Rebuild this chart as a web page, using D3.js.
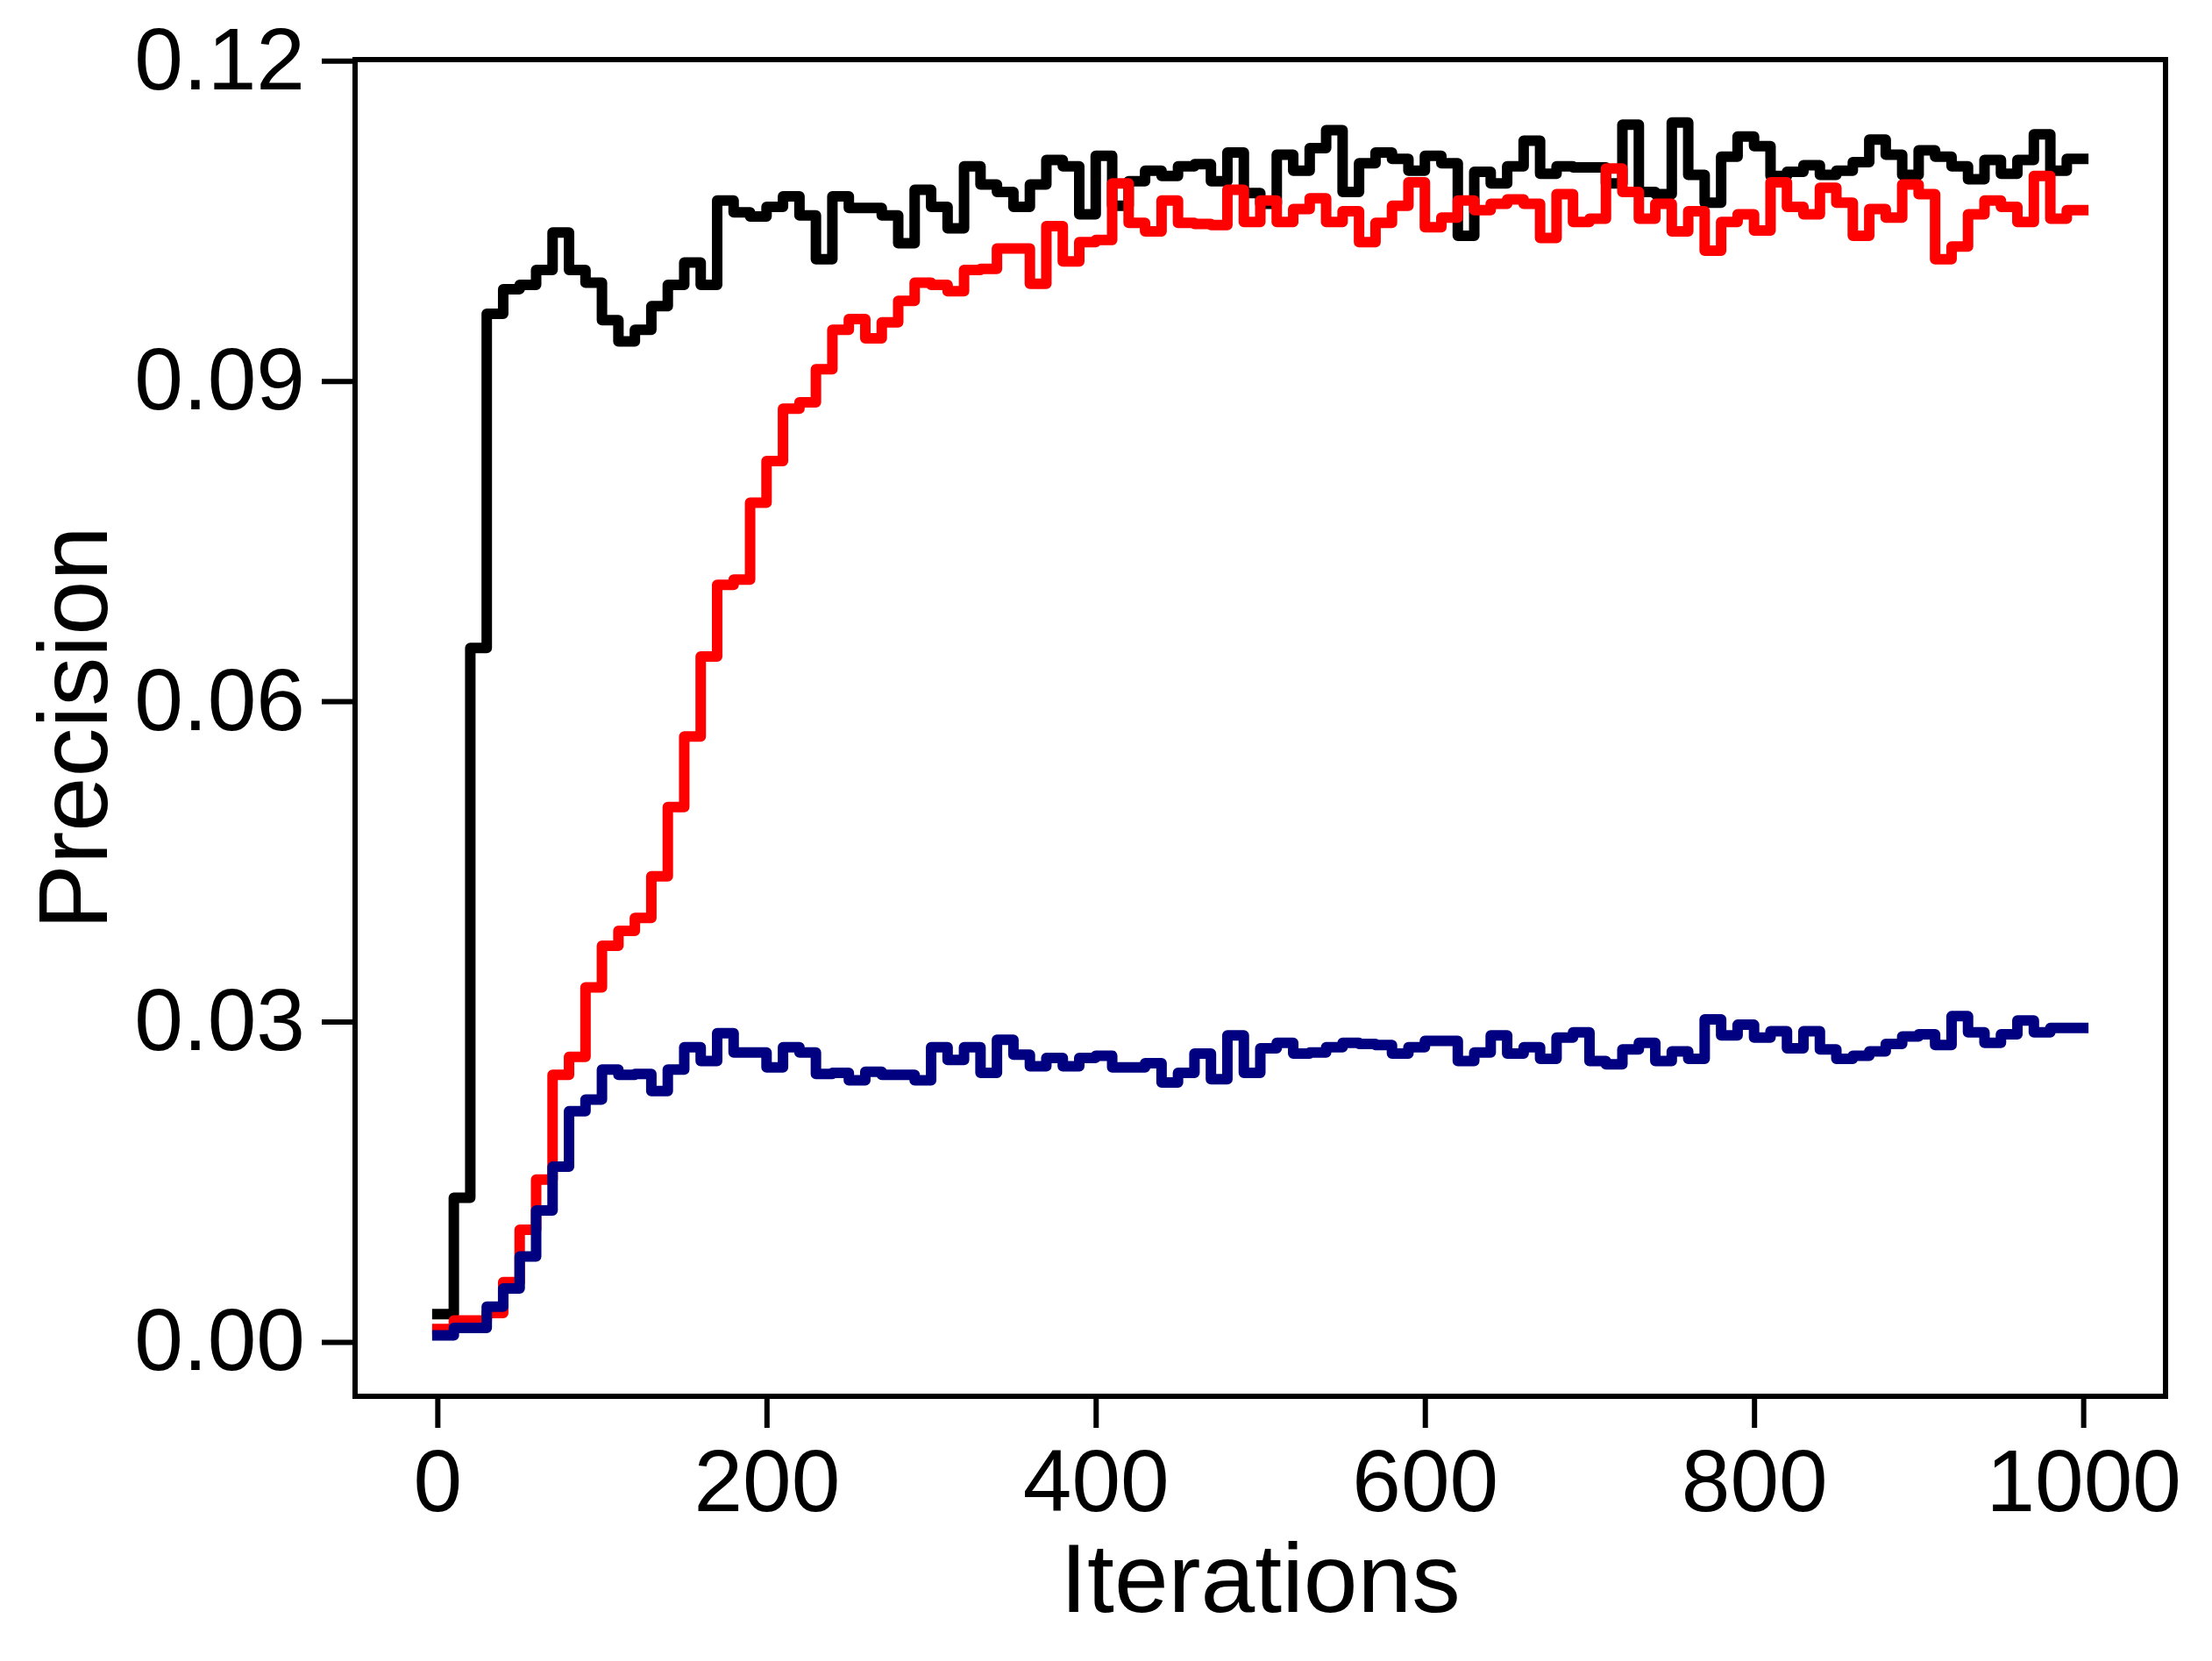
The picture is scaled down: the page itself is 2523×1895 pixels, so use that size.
<!DOCTYPE html>
<html>
<head>
<meta charset="utf-8">
<script src="https://cdn.jsdelivr.net/npm/d3@7"></script>
<style>
  body { margin: 0; background: #fff; }
  text { font-family: "Liberation Sans", Arial, sans-serif; fill: #000; }
</style>
</head>
<body>
<div id="chart"></div>
<script>
// iterations sampled every 10 steps
const iterations = d3.range(0, 1001, 10);

const blackValues = [
  0.0026, 0.0135, 0.0650, 0.0963, 0.0986, 0.0990, 0.1004, 0.1039, 0.1004, 0.0992,
  0.0957, 0.0937, 0.0948, 0.0970, 0.0990, 0.1011, 0.0990, 0.1069, 0.1058, 0.1054,
  0.1063, 0.1073, 0.1055, 0.1014, 0.1073, 0.1062, 0.1062, 0.1055, 0.1029, 0.1079,
  0.1063, 0.1043, 0.1101, 0.1084, 0.1077, 0.1063, 0.1084, 0.1107, 0.1101, 0.1056,
  0.1111, 0.1064, 0.1087, 0.1097, 0.1092, 0.1101, 0.1103, 0.1087, 0.1114, 0.1076,
  0.1066, 0.1112, 0.1097, 0.1118, 0.1135, 0.1077, 0.1104, 0.1114, 0.1108, 0.1097,
  0.1111, 0.1104, 0.1036, 0.1096, 0.1085, 0.1101, 0.1125, 0.1094, 0.1101, 0.1100,
  0.1100, 0.1085, 0.1140, 0.1077, 0.1075, 0.1142, 0.1093, 0.1067, 0.1110, 0.1129,
  0.1120, 0.1092, 0.1096, 0.1102, 0.1093, 0.1097, 0.1105, 0.1126, 0.1112, 0.1093,
  0.1116, 0.1110, 0.1101, 0.1089, 0.1107, 0.1094, 0.1107, 0.1131, 0.1097, 0.1108,
  0.1108
];

const redValues = [
  0.0012, 0.0020, 0.0020, 0.0027, 0.0056, 0.0105, 0.0152, 0.0250, 0.0267, 0.0332,
  0.0371, 0.0385, 0.0397, 0.0436, 0.0501, 0.0567, 0.0642, 0.0709, 0.0714, 0.0786,
  0.0825, 0.0874, 0.0880, 0.0911, 0.0948, 0.0958, 0.0940, 0.0955, 0.0975, 0.0992,
  0.0990, 0.0984, 0.1004, 0.1005, 0.1024, 0.1024, 0.0991, 0.1045, 0.1012, 0.1030,
  0.1032, 0.1085, 0.1048, 0.1040, 0.1069, 0.1048, 0.1047, 0.1046, 0.1079, 0.1049,
  0.1069, 0.1049, 0.1061, 0.1071, 0.1049, 0.1059, 0.1030, 0.1048, 0.1064, 0.1086,
  0.1044, 0.1053, 0.1069, 0.1060, 0.1066, 0.1070, 0.1066, 0.1034, 0.1075, 0.1049,
  0.1052, 0.1099, 0.1077, 0.1052, 0.1066, 0.1040, 0.1059, 0.1022, 0.1049, 0.1056,
  0.1041, 0.1086, 0.1063, 0.1056, 0.1081, 0.1067, 0.1036, 0.1061, 0.1053, 0.1084,
  0.1075, 0.1014, 0.1026, 0.1056, 0.1069, 0.1063, 0.1049, 0.1092, 0.1052, 0.1060,
  0.1060
];

const blueValues = [
  0.0006, 0.0013, 0.0013, 0.0033, 0.0050, 0.0080, 0.0123, 0.0164, 0.0216, 0.0227,
  0.0255, 0.0250, 0.0251, 0.0235, 0.0255, 0.0276, 0.0263, 0.0289, 0.0271, 0.0271,
  0.0257, 0.0276, 0.0271, 0.0251, 0.0252, 0.0245, 0.0253, 0.0250, 0.0250, 0.0245,
  0.0276, 0.0264, 0.0276, 0.0252, 0.0283, 0.0269, 0.0258, 0.0266, 0.0258, 0.0266,
  0.0268, 0.0257, 0.0257, 0.0261, 0.0243, 0.0252, 0.0270, 0.0246, 0.0287, 0.0252,
  0.0275, 0.0280, 0.0270, 0.0271, 0.0276, 0.0280, 0.0279, 0.0278, 0.0270, 0.0276,
  0.0282, 0.0282, 0.0263, 0.0271, 0.0287, 0.0270, 0.0276, 0.0265, 0.0285, 0.0290,
  0.0263, 0.0260, 0.0274, 0.0280, 0.0263, 0.0272, 0.0265, 0.0302, 0.0287, 0.0297,
  0.0285, 0.0291, 0.0275, 0.0291, 0.0274, 0.0265, 0.0268, 0.0272, 0.0279, 0.0286,
  0.0288, 0.0278, 0.0305, 0.0290, 0.0280, 0.0288, 0.0301, 0.0290, 0.0294, 0.0294,
  0.0294
];

const xTicks = [0, 200, 400, 600, 800, 1000];
const yTicks = [0, 0.03, 0.06, 0.09, 0.12];

const series = [
  { name: "black", color: "#000000", values: blackValues },
  { name: "red", color: "#ff0000", values: redValues },
  { name: "blue", color: "#000080", values: blueValues }
];

const width = 2523, height = 1895;
const plot = { left: 405, right: 2470, top: 68, bottom: 1593 };

const svg = d3.select("#chart").append("svg")
    .attr("width", width)
    .attr("height", height);

svg.append("rect")
    .attr("width", width)
    .attr("height", height)
    .attr("fill", "#fff");

const x = d3.scaleLinear().domain([-50, 1050]).range([plot.left, plot.right]);
const y = d3.scaleLinear().domain([-0.0051, 0.1201]).range([plot.bottom, plot.top]);

// lines (stepped)
const line = d3.line()
    .x((d, i) => x(iterations[i]))
    .y(d => y(d))
    .curve(d3.curveStepAfter);

svg.append("g")
    .selectAll("path")
    .data(series)
    .join("path")
    .attr("d", d => line(d.values))
    .attr("fill", "none")
    .attr("stroke", d => d.color)
    .attr("stroke-width", 12)
    .attr("stroke-linejoin", "round")
    .attr("stroke-linecap", "square");

// axes
const xAxis = svg.append("g")
    .attr("transform", `translate(0,${plot.bottom})`)
    .call(d3.axisBottom(x).tickValues(xTicks).tickSize(36).tickPadding(24).tickFormat(d3.format("d")));

const yAxis = svg.append("g")
    .attr("transform", `translate(${plot.left},0)`)
    .call(d3.axisLeft(y).tickValues(yTicks).tickSize(38).tickPadding(19).tickFormat(d3.format(".2f")));

[xAxis, yAxis].forEach(g => {
    g.select(".domain").remove();
    g.selectAll(".tick line").attr("stroke", "#000").attr("stroke-width", 6);
    g.selectAll(".tick text")
        .style("font-family", '"Liberation Sans", Arial, sans-serif')
        .style("font-size", "100px")
        .attr("fill", "#000");
});

// frame
svg.append("rect")
    .attr("x", plot.left)
    .attr("y", plot.top)
    .attr("width", plot.right - plot.left)
    .attr("height", plot.bottom - plot.top)
    .attr("fill", "none")
    .attr("stroke", "#000")
    .attr("stroke-width", 6);

// axis labels
svg.append("text")
    .attr("x", (plot.left + plot.right) / 2)
    .attr("y", 1839)
    .attr("text-anchor", "middle")
    .style("font-size", "111px")
    .text("Iterations");

svg.append("text")
    .attr("transform", `translate(122,${(plot.top + plot.bottom) / 2}) rotate(-90)`)
    .attr("text-anchor", "middle")
    .style("font-size", "112px")
    .text("Precision");
</script>
</body>
</html>
